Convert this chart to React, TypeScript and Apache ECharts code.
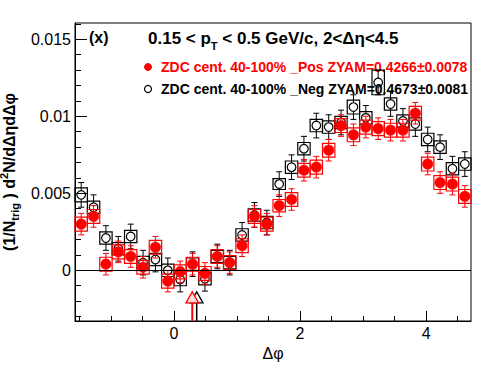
import React, { useEffect, useRef } from "react";
import * as echarts from "echarts";

// ---- binning (Δφ from -π/2 to 3π/2, 32 bins) ----
const PHI_MIN = -Math.PI / 2;
const PHI_MAX = (3 * Math.PI) / 2;
const N_BINS = 32;
const BIN_W = (PHI_MAX - PHI_MIN) / N_BINS;
const phiCenters = Array.from({ length: N_BINS }, (_, i) => PHI_MIN + (i + 0.5) * BIN_W);

// ---- data: ZDC cent. 40-100% _Neg (black open circles) ----
const negValues = [
  0.0049, 0.0041, 0.0021, 0.0014, 0.0022, 0.0005, 0.0007, 0.0, -0.0006, 0.0004, -0.00055,
  0.0009, 0.0005, 0.0023, 0.0036, 0.0031, 0.0056, 0.0067, 0.0079, 0.0094, 0.0093, 0.0096,
  0.0106, 0.0099, 0.0122, 0.0108, 0.0097, 0.0095, 0.0085, 0.008, 0.0066, 0.0069,
];
const negStat = [
  0.0008, 0.0008, 0.0008, 0.0008, 0.0008, 0.0008, 0.0008, 0.0008, 0.0008, 0.0008, 0.0008,
  0.0008, 0.0008, 0.0008, 0.0008, 0.0008, 0.0008, 0.0008, 0.0008, 0.0008, 0.0008, 0.0008,
  0.0008, 0.0008, 0.0008, 0.0008, 0.0008, 0.0008, 0.0008, 0.0008, 0.0008, 0.0008,
];
const negSys = [
  0.00045, 0.0004, 0.0004, 0.0004, 0.0004, 0.0004, 0.0004, 0.0004, 0.0004, 0.0004, 0.0004,
  0.0004, 0.0004, 0.0004, 0.0004, 0.0004, 0.00035, 0.0004, 0.0004, 0.0004, 0.0004, 0.0004,
  0.00045, 0.0004, 0.0008, 0.0004, 0.0004, 0.0004, 0.0004, 0.0004, 0.0004, 0.0004,
];

// ---- data: ZDC cent. 40-100% _Pos (red filled circles) ----
const posValues = [
  0.003, 0.0035, 0.0004, 0.0012, 0.0009, 0.0002, 0.0015, -0.0007, -0.0001, 0.0004, -0.0002,
  0.0009, 0.0005, 0.0016, 0.0035, 0.003, 0.0042, 0.0046, 0.0065, 0.0067, 0.0078, 0.0094,
  0.0088, 0.0093, 0.0092, 0.0091, 0.0091, 0.0102, 0.0069, 0.0057, 0.0056, 0.0048,
];
const posStat = [
  0.0007, 0.0007, 0.0007, 0.0007, 0.0007, 0.0007, 0.0007, 0.0007, 0.0007, 0.0007, 0.0007,
  0.0007, 0.0007, 0.0007, 0.0007, 0.0007, 0.0007, 0.0007, 0.0007, 0.0007, 0.0007, 0.0007,
  0.0007, 0.0007, 0.0007, 0.0007, 0.0007, 0.0007, 0.0007, 0.0007, 0.0007, 0.0007,
];
const posSys = [
  0.00045, 0.00045, 0.00045, 0.00045, 0.00045, 0.00045, 0.00045, 0.00045, 0.00045, 0.00045,
  0.00045, 0.00045, 0.00045, 0.00045, 0.00045, 0.00045, 0.0004, 0.00045, 0.00045, 0.00045,
  0.00045, 0.00045, 0.00045, 0.00045, 0.00045, 0.00045, 0.00045, 0.00045, 0.00045, 0.00045,
  0.00045, 0.00045,
];

// ---- ZYAM minimum arrows: [Δφ position, tip value] ----
const arrowPhi = [0.36, 0.29]; // black (Neg), red (Pos)
const arrowTip = [-0.0014, -0.0014];
const arrowColors = ["#000000", "#ff0000"];

// ---- axes ----
const Y_MIN = -0.00329;
const Y_MAX = 0.01606;
const yMajorTicks = [0, 0.005, 0.01, 0.015];
const yTickLabels = ["0", "0.005", "0.01", "0.015"];
const yMinorTicks = [
  -0.003, -0.002, -0.001, 0.001, 0.002, 0.003, 0.004, 0.006, 0.007, 0.008, 0.009, 0.011,
  0.012, 0.013, 0.014, 0.016,
];
const xMajorTicks = [0, 2, 4];
const xTickLabels = ["0", "2", "4"];
const xMinorTicks = [-1.5, -1, -0.5, 0.5, 1, 1.5, 2.5, 3, 3.5, 4.5];

const legendPos = "ZDC cent. 40-100% _Pos ZYAM=0.4266±0.0078";
const legendNeg = "ZDC cent. 40-100% _Neg ZYAM=0.4673±0.0081";

const FONT = "Liberation Sans, Arial, Helvetica, sans-serif";

function makeRender(color: string, filled: boolean, r: number) {
  return (params: any, api: any) => {
    const x = api.value(0);
    const y = api.value(1);
    const e = api.value(2);
    const s = api.value(3);
    const [cx, cy] = api.coord([x, y]);
    const [xl, yt] = api.coord([x - BIN_W / 2, y + s]);
    const [xr, yb] = api.coord([x + BIN_W / 2, y - s]);
    const eTop = api.coord([x, y + e])[1];
    const eBot = api.coord([x, y - e])[1];
    const cap = 3;
    const ls = { stroke: color, lineWidth: 1 };
    return {
      type: "group",
      children: [
        {
          type: "rect",
          shape: { x: xl, y: yt, width: xr - xl, height: yb - yt },
          style: { fill: "none", stroke: color, lineWidth: 1.2 },
        },
        { type: "line", shape: { x1: cx, y1: eTop, x2: cx, y2: cy - r }, style: ls },
        { type: "line", shape: { x1: cx, y1: cy + r, x2: cx, y2: eBot }, style: ls },
        { type: "line", shape: { x1: cx - cap, y1: eTop, x2: cx + cap, y2: eTop }, style: ls },
        { type: "line", shape: { x1: cx - cap, y1: eBot, x2: cx + cap, y2: eBot }, style: ls },
        {
          type: "circle",
          shape: { cx, cy, r },
          style: filled
            ? { fill: color, stroke: color, lineWidth: 0.5 }
            : { fill: "rgba(255,255,255,0)", stroke: color, lineWidth: 1.2 },
        },
      ],
    };
  };
}

export default function App() {
  const ref = useRef<HTMLDivElement>(null);

  useEffect(() => {
    if (!ref.current) return;
    const chart = echarts.init(ref.current, undefined, { renderer: "svg" });

    const negData = phiCenters.map((p, i) => [p, negValues[i], negStat[i], negSys[i]]);
    const posData = phiCenters.map((p, i) => [p, posValues[i], posStat[i], posSys[i]]);
    const arrowData = arrowPhi.map((p, i) => [p, arrowTip[i], i]);

    const option: any = {
      animation: false,
      textStyle: { fontFamily: FONT },
      grid: {
        left: 75,
        right: 25,
        top: 23,
        bottom: 53,
        show: true,
        containLabel: false,
        outerBoundsMode: "none",
        borderColor: "#000",
        borderWidth: 1,
        backgroundColor: "transparent",
      },
      xAxis: [
        {
          type: "value",
          min: PHI_MIN,
          max: PHI_MAX,
          position: "bottom",
          axisLine: { show: true, onZero: false, lineStyle: { color: "#000", width: 1 } },
          axisTick: {
            show: true,
            inside: true,
            length: 10,
            customValues: xMajorTicks,
            lineStyle: { color: "#000" },
          },
          axisLabel: {
            customValues: xMajorTicks,
            formatter: (v: number) => xTickLabels[xMajorTicks.indexOf(v)] ?? "",
            color: "#000",
            fontSize: 16,
            fontFamily: FONT,
            margin: 4,
          },
          splitLine: { show: false },
          name: "Δφ",
          nameLocation: "middle",
          nameGap: 22,
          nameTextStyle: { fontSize: 16, color: "#000", fontFamily: FONT },
        },
        {
          type: "value",
          min: PHI_MIN,
          max: PHI_MAX,
          position: "bottom",
          axisLine: { show: false, onZero: false },
          axisTick: {
            show: true,
            inside: true,
            length: 5,
            customValues: xMinorTicks,
            lineStyle: { color: "#000" },
          },
          axisLabel: { show: false },
          splitLine: { show: false },
        },
      ],
      yAxis: [
        {
          type: "value",
          min: Y_MIN,
          max: Y_MAX,
          position: "left",
          axisLine: { show: true, onZero: false, lineStyle: { color: "#000", width: 1 } },
          axisTick: {
            show: true,
            inside: true,
            length: 12,
            customValues: yMajorTicks,
            lineStyle: { color: "#000" },
          },
          axisLabel: {
            customValues: yMajorTicks,
            formatter: (v: number) => {
              const k = yMajorTicks.findIndex((t) => Math.abs(t - v) < 1e-9);
              return k >= 0 ? yTickLabels[k] : "";
            },
            color: "#000",
            fontSize: 16,
            fontFamily: FONT,
            margin: 4,
          },
          splitLine: { show: false },
          name: "{a|(1/N}{sub|trig}{a| ) d}{sup|2}{a|N/dΔηdΔφ}",
          nameLocation: "middle",
          nameRotate: 90,
          nameGap: 49,
          nameTextStyle: {
            color: "#000",
            rich: {
              a: { fontSize: 16, fontWeight: "bold", fontFamily: FONT, lineHeight: 22, color: "#000" },
              sub: {
                fontSize: 11,
                fontWeight: "bold",
                fontFamily: FONT,
                lineHeight: 2,
                verticalAlign: "bottom",
                color: "#000",
              },
              sup: {
                fontSize: 11,
                fontWeight: "bold",
                fontFamily: FONT,
                lineHeight: 15,
                verticalAlign: "top",
                color: "#000",
              },
            },
          },
        },
        {
          type: "value",
          min: Y_MIN,
          max: Y_MAX,
          position: "left",
          axisLine: { show: false, onZero: false },
          axisTick: {
            show: true,
            inside: true,
            length: 6,
            customValues: yMinorTicks,
            lineStyle: { color: "#000" },
          },
          axisLabel: { show: false },
          splitLine: { show: false },
        },
      ],
      graphic: [
        {
          type: "text",
          x: 89,
          y: 37,
          style: {
            text: "(x)",
            font: `bold 16px ${FONT}`,
            fill: "#000",
            verticalAlign: "middle",
          },
        },
        {
          type: "text",
          x: 148,
          y: 38,
          style: {
            text: "{a|0.15 < p}{sub|T}{a| < 0.5 GeV/c, 2<Δη<4.5}",
            verticalAlign: "middle",
            fill: "#000",
            rich: {
              a: { fontSize: 17, fontWeight: "bold", fontFamily: FONT, lineHeight: 26, fill: "#000" },
              sub: {
                fontSize: 11,
                fontWeight: "bold",
                fontFamily: FONT,
                lineHeight: 11,
                verticalAlign: "bottom",
                fill: "#000",
              },
            },
          },
        },
        {
          type: "circle",
          shape: { cx: 148, cy: 67, r: 3.5 },
          style: { fill: "#ff0000", stroke: "#ff0000" },
        },
        {
          type: "text",
          x: 161,
          y: 67,
          style: {
            text: legendPos,
            font: `bold 14px ${FONT}`,
            fill: "#ff0000",
            verticalAlign: "middle",
          },
        },
        {
          type: "circle",
          shape: { cx: 148, cy: 89, r: 3.5 },
          style: { fill: "#fff", stroke: "#000", lineWidth: 1.2 },
        },
        {
          type: "text",
          x: 161,
          y: 89,
          style: {
            text: legendNeg,
            font: `bold 14px ${FONT}`,
            fill: "#000",
            verticalAlign: "middle",
          },
        },
      ],
      series: [
        {
          type: "custom",
          name: "Neg",
          xAxisIndex: 0,
          yAxisIndex: 0,
          data: negData,
          encode: { x: 0, y: 1 },
          renderItem: makeRender("#000000", false, 4.3),
          z: 2,
          markLine: {
            silent: true,
            symbol: "none",
            label: { show: false },
            lineStyle: { color: "#000", width: 1, type: "solid" },
            data: [{ yAxis: 0 }],
          },
        },
        {
          type: "custom",
          name: "Pos",
          xAxisIndex: 0,
          yAxisIndex: 0,
          data: posData,
          encode: { x: 0, y: 1 },
          renderItem: makeRender("#ff0000", true, 5.3),
          z: 3,
        },
        {
          type: "custom",
          name: "ZYAM arrows",
          xAxisIndex: 0,
          yAxisIndex: 0,
          data: arrowData,
          encode: { x: 0, y: 1 },
          z: 4,
          renderItem: (params: any, api: any) => {
            const x = api.value(0);
            const y = api.value(1);
            const idx = api.value(2);
            const color = arrowColors[idx];
            const [tx, ty] = api.coord([x, y]);
            const by = ty + 11;
            const bottom = api.coord([x, Y_MIN])[1];
            const hw = 6.3;
            return {
              type: "group",
              children: [
                {
                  type: "line",
                  shape: { x1: tx, y1: by, x2: tx, y2: bottom },
                  style: { stroke: color, lineWidth: idx === 1 ? 2 : 1.5 },
                },
                {
                  type: "polygon",
                  shape: { points: [[tx, ty], [tx - hw, by], [tx + hw, by]] },
                  style: {
                    fill: idx === 1 ? "#f7dede" : "#ffffff",
                    stroke: color,
                    lineWidth: 1.3,
                  },
                },
              ],
            };
          },
        },
      ],
    };

    chart.setOption(option);
    return () => chart.dispose();
  }, []);

  return (
    <div
      ref={ref}
      style={{ position: "fixed", left: 0, top: 0, width: 496, height: 374, background: "#fff" }}
    />
  );
}
